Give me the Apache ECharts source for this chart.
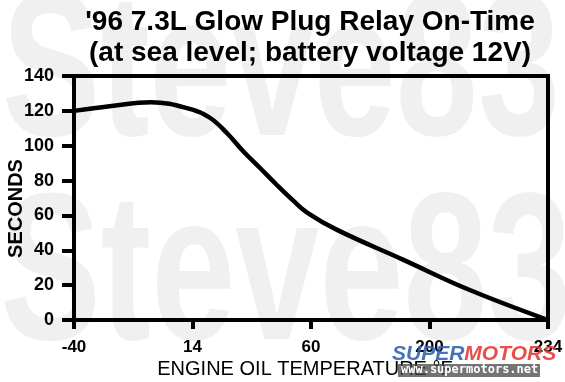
<!DOCTYPE html>
<html>
<head>
<meta charset="utf-8">
<script src="https://cdn.jsdelivr.net/npm/echarts@6/dist/echarts.min.js"></script>
<style>
html,body{margin:0;padding:0;background:#fff;}
#chart{width:565px;height:382px;}
</style>
</head>
<body>
<div id="chart"></div>
<script>
// Tick labels of the (equally spaced) temperature axis, °F
const tempLabels = ['-40', '14', '60', '200', '234'];
// Position of each read point along the temperature axis (0 = -40, 1 = 14, 2 = 60, 3 = 200, 4 = 234)
const tempAxisPos = [0, 0.3, 0.65, 1.0, 1.15, 1.29, 1.43, 1.57, 1.71, 1.85, 1.97, 2.22, 2.78, 3.34, 4.0];
// Relay on-time in seconds read at those positions
const seconds = [120, 122.6, 125, 120.7, 115.9, 107.3, 96.7, 87.2, 77.6, 68.5, 61.5, 51.7, 34.5, 17.2, 0];
const secondTicks = [0, 20, 40, 60, 80, 100, 120, 140];

const titleText = "'96 7.3L Glow Plug Relay On-Time\n(at sea level; battery voltage 12V)";
const xName = 'ENGINE OIL TEMPERATURE °F';
const yName = 'SECONDS';
const watermark = 'Steve83';

const FONT = '"Liberation Sans", Arial, Helvetica, sans-serif';
const chart = echarts.init(document.getElementById('chart'), null, {renderer: 'canvas'});

const lineData = tempAxisPos.map((p, i) => [p, seconds[i]]);

chart.setOption({
  animation: false,
  backgroundColor: '#fff',
  title: {
    text: titleText,
    left: 305,
    top: 2,
    textAlign: 'center',
    textStyle: {fontFamily: FONT, fontSize: 28, fontWeight: 'bold', color: '#000', lineHeight: 31}
  },
  grid: {
    left: 74, right: 17, top: 76, bottom: 62,
    containLabel: false,
    outerBoundsMode: 'none',
    show: true, borderColor: '#000', borderWidth: 4, backgroundColor: 'transparent'
  },
  xAxis: {
    type: 'value',
    min: 0, max: tempLabels.length - 1, interval: 1,
    name: xName,
    nameLocation: 'middle',
    nameGap: 39,
    nameMoveOverlap: false,
    nameTextStyle: {fontFamily: FONT, fontSize: 20, color: '#000', padding: [0, 12, 0, 0]},
    axisLine: {show: true, onZero: false, lineStyle: {color: '#000', width: 4}},
    axisTick: {show: true, inside: false, length: 9, lineStyle: {color: '#000', width: 4}},
    axisLabel: {
      margin: 19, fontFamily: FONT, fontSize: 17, fontWeight: 'bold', color: '#000',
      formatter: v => tempLabels[Math.round(v)]
    },
    splitLine: {show: false}
  },
  yAxis: {
    type: 'value',
    min: secondTicks[0], max: secondTicks[secondTicks.length - 1], interval: 20,
    name: yName,
    nameLocation: 'middle',
    nameGap: 48,
    nameMoveOverlap: false,
    nameTextStyle: {fontFamily: FONT, fontSize: 20, fontWeight: 'bold', color: '#000', padding: [0, 21, 0, 0]},
    axisLine: {show: true, onZero: false, lineStyle: {color: '#000', width: 4}},
    axisTick: {show: true, inside: false, length: 12, lineStyle: {color: '#000', width: 4}},
    axisLabel: {margin: 20, fontFamily: FONT, fontSize: 18, fontWeight: 'bold', color: '#000'},
    splitLine: {show: false}
  },
  series: [{
    type: 'line',
    data: lineData,
    smooth: 0.4,
    showSymbol: false,
    symbol: 'none',
    lineStyle: {color: '#000', width: 4.5},
    z: 5
  }],
  graphic: [
    {
      type: 'text', z: -10, left: 2, top: -24, silent: true,
      scaleX: 0.72,
      style: {text: watermark, fill: '#f0f0f0', font: 'bold 205px ' + FONT}
    },
    {
      type: 'text', z: -10, left: 0, top: 176, silent: true,
      scaleX: 0.72,
      style: {text: watermark, fill: '#f0f0f0', font: 'bold 210px ' + FONT}
    },
    {
      type: 'rect', z: 50, silent: true,
      shape: {x: 398, y: 364, width: 142, height: 13},
      style: {fill: 'rgba(70,70,70,0.75)'}
    },
    {
      type: 'text', z: 51, silent: true, left: 401, top: 364,
      style: {text: 'www.supermotors.net', fill: '#fff', font: 'bold 12px "DejaVu Sans Mono", monospace'}
    },
    {
      type: 'text', z: 51, silent: true, left: 392, top: 344,
      style: {
        text: '{a|SUPER}{b|MOTORS}',
        rich: {
          a: {fill: 'rgba(50,100,175,0.9)', font: 'italic bold 21px ' + FONT},
          b: {fill: 'rgba(230,60,55,0.9)', font: 'italic bold 21px ' + FONT}
        }
      }
    }
  ]
});
</script>
</body>
</html>
